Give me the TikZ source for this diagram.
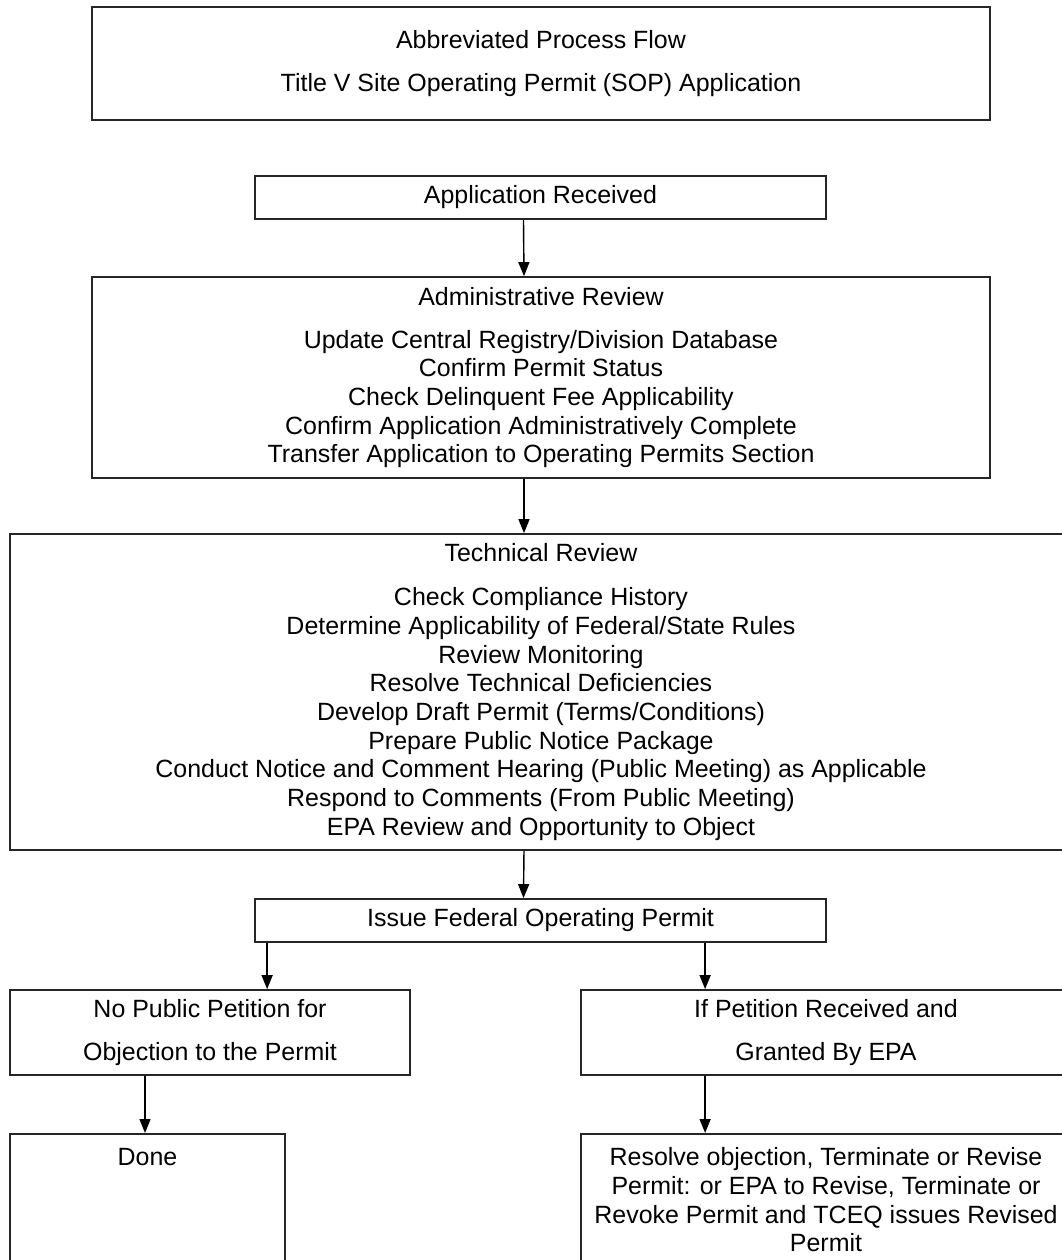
\documentclass[tikz,border=0pt]{standalone}
\usepackage{fontspec}
\setmainfont{Liberation Sans}
\usetikzlibrary{positioning,calc,arrows.meta}
\tikzset{
	flowbox/.style={draw=black!85, line width=0.5pt, rectangle, inner sep=0pt, align=center},
	flowtext/.style={inner sep=0pt, align=center},
	flowarrow/.style={draw=black, line width=0.4pt, -{Triangle[length=0.14cm,width=0.11cm]}}
}
\begin{document}
\begin{tikzpicture}[x=1cm,y=-1cm,font=\fontsize{7.1}{8.15}\selectfont]
		\useasboundingbox (0,0) rectangle (10.62,12.6);
		\clip (0,0) rectangle (10.62,12.6);
		\node[flowbox, minimum width=8.98cm, minimum height=1.13cm] (title) at (5.41,0.635)
			{Abbreviated Process Flow\\[0.135cm]Title V Site Operating Permit (SOP) Application};
		\node[flowbox, minimum width=5.71cm, minimum height=0.43cm] (recv) at (5.405,1.975)
			{Application Received};
		\node[flowbox, minimum width=8.98cm, minimum height=2.01cm] (admin) at (5.41,3.775)
			{Administrative Review\\[0.145cm]
			Update Central Registry/Division Database\\
			Confirm Permit Status\\
			Check Delinquent Fee Applicability\\
			Confirm Application Administratively Complete\\
			Transfer Application to Operating Permits Section};
		\node[flowbox, minimum width=10.62cm, minimum height=3.16cm] (tech) at (5.41,6.92)
			{Technical Review\\[0.155cm]
			Check Compliance History\\
			Determine Applicability of Federal/State Rules\\
			Review Monitoring\\
			Resolve Technical Deficiencies\\
			Develop Draft Permit (Terms/Conditions)\\
			Prepare Public Notice Package\\
			Conduct Notice and Comment Hearing (Public Meeting) as Applicable\\
			Respond to Comments (From Public Meeting)\\
			EPA Review and Opportunity to Object};
		\node[flowbox, minimum width=5.71cm, minimum height=0.43cm] (issue) at (5.405,9.205)
			{Issue Federal Operating Permit};
		\node[flowbox, minimum width=4.00cm, minimum height=0.85cm] (nopet) at (2.10,10.325)
			{No Public Petition for\\[0.135cm]Objection to the Permit};
		\node[flowbox, minimum width=4.90cm, minimum height=0.85cm] (ifpet) at (8.26,10.325)
			{If Petition Received and\\[0.135cm]Granted By EPA};
		\node[flowbox, anchor=north, minimum width=2.75cm, minimum height=2cm] (done) at (1.475,11.33) {};
		\node[flowtext] (donetext) at ($(done.north)+(0,0.24)$) {Done};
		\node[flowbox, anchor=north, minimum width=4.90cm, minimum height=2cm] (resolve) at (8.26,11.33) {};
		\node[flowtext] (resolvetext) at ($(resolve.north)+(0,0.67)$)
			{Resolve objection, Terminate or Revise\\
			Permit: or EPA to Revise, Terminate or\\
			Revoke Permit and TCEQ issues Revised\\
			Permit};
		\draw[flowarrow] ($(recv.south)+(-0.17,0)$) -- ($(admin.north)+(-0.17,0)$);
		\draw[flowarrow] ($(admin.south)+(-0.17,0)$) -- ($(tech.north)+(-0.17,0)$);
		\draw[flowarrow] ($(tech.south)+(-0.17,0)$) -- ($(issue.north)+(-0.17,0)$);
		\draw[flowarrow] ($(issue.south west)+(0.13,0)$) -- ($(issue.south west |- nopet.north)+(0.13,0)$);
		\draw[flowarrow] ($(issue.south -| ifpet.north west)+(1.25,0)$) -- ($(ifpet.north west)+(1.25,0)$);
		\draw[flowarrow] ($(nopet.south -| done.north)+(-0.025,0)$) -- ($(done.north)+(-0.025,0)$);
		\draw[flowarrow] ($(ifpet.south west)+(1.25,0)$) -- ($(resolve.north west)+(1.25,0)$);
\end{tikzpicture}
\end{document}
